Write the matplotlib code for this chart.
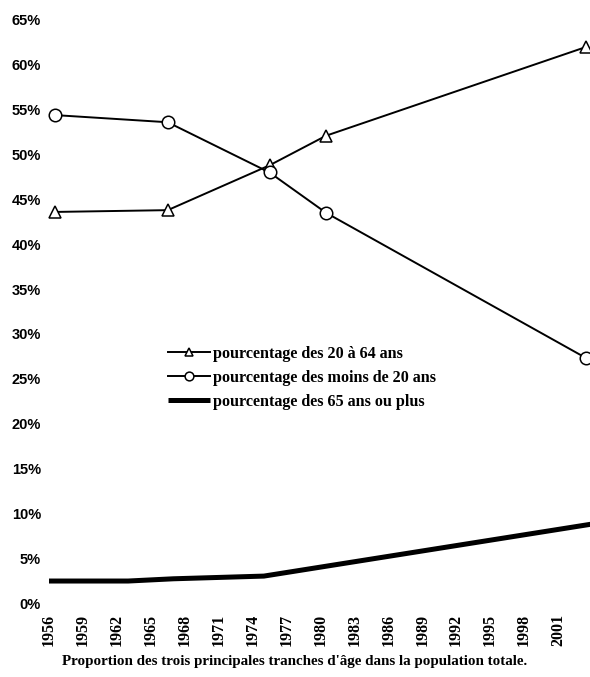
import matplotlib
matplotlib.use("Agg")
import matplotlib.pyplot as plt
from matplotlib.ticker import FixedLocator

# ---- data ----
years_markers = [1956, 1966, 1975, 1980, 2003]
pct_20_64 = [43.6, 43.8, 48.8, 52.1, 62.0]
pct_moins_20 = [54.4, 53.6, 48.0, 43.5, 27.3]

years_65 = [1956, 1963, 1967, 1975, 2004]
pct_65_plus = [2.45, 2.45, 2.7, 3.0, 8.8]

tick_years = list(range(1956, 2002, 3))
y_ticks = list(range(0, 70, 5))
y_tick_labels = [f"{v}%" for v in y_ticks]

labels = ["pourcentage des 20 à 64 ans",
          "pourcentage des moins de 20 ans",
          "pourcentage des 65 ans ou plus"]
caption = "Proportion des trois principales tranches d'âge dans la population totale."

# ---- figure ----
W, H = 590, 677
fig = plt.figure(figsize=(W / 100, H / 100), dpi=100)
ax_left, ax_right, ax_top, ax_bottom = 48, 590, 10, 610
ax = fig.add_axes([ax_left / W, 1 - ax_bottom / H,
                   (ax_right - ax_left) / W, (ax_bottom - ax_top) / H])

px_per_year = 11.31
x0 = 1956 - (49 - ax_left) / px_per_year
x1 = 1956 + (ax_right - 49) / px_per_year
ax.set_xlim(x0, x1)
px_per_pct = 8.97
y0 = 0 - (ax_bottom - 603) / px_per_pct
y1 = 65 + (20 - ax_top) / px_per_pct
ax.set_ylim(y0, y1)

offset = 0.5  # markers centred in their year slot
xm = [y + offset for y in years_markers]

ax.plot(xm, pct_20_64, color="black", lw=1.4, marker="^", ms=9,
        mfc="white", mec="black", mew=1.1, clip_on=False, zorder=3,
        label=labels[0])
ax.plot(xm, pct_moins_20, color="black", lw=1.4, marker="o", ms=9,
        mfc="white", mec="black", mew=1.1, clip_on=False, zorder=3,
        label=labels[1])
ax.plot(years_65, pct_65_plus, color="black", lw=3.6, solid_capstyle="butt",
        clip_on=False, zorder=3, label=labels[2])

for s in ax.spines.values():
    s.set_visible(False)

ax.yaxis.set_major_locator(FixedLocator(y_ticks))
ax.set_yticklabels(y_tick_labels, fontfamily="Liberation Sans",
                   fontweight="bold", fontsize=10.5)
ax.xaxis.set_major_locator(FixedLocator(tick_years))
ax.set_xticklabels([str(t) for t in tick_years], rotation=90,
                   fontfamily="Liberation Serif", fontweight="bold",
                   fontsize=11.5)
ax.tick_params(axis="y", length=0, pad=5)
ax.tick_params(axis="x", length=0, pad=3)

leg = fig.legend(loc="upper left",
                 bbox_to_anchor=(168 / W, 1 - 346 / H),
                 frameon=False, borderpad=0, borderaxespad=0,
                 handlelength=2.6, handletextpad=0.2, labelspacing=0.5,
                 markerscale=0.7,
                 prop={"family": "Liberation Serif", "weight": "bold",
                       "size": 11.6})

fig.text(295 / W, 1 - 662 / H, caption, ha="center", va="center",
         fontfamily="Liberation Serif", fontweight="bold", fontsize=10.8)

fig.savefig("out.png", dpi=100)
